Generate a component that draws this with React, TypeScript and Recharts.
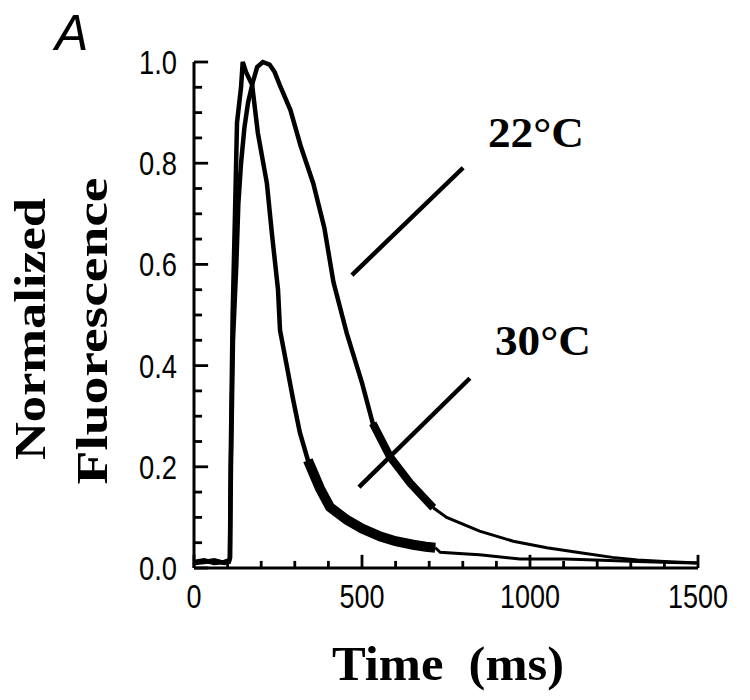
import React from "react";
import { LineChart, Line, XAxis, YAxis, ReferenceLine } from "recharts";

// 30°C trace, fast sampled part (ms / normalized fluorescence)
const time30 = [0, 30, 60, 90, 104, 107, 109, 115, 122, 128, 140, 145, 155, 173, 190, 217, 232, 250, 256, 276, 295, 315, 339, 375, 405, 455, 500, 555, 600, 652, 690, 718];
const fluo30 = [0.012, 0.015, 0.01, 0.012, 0.015, 0.02, 0.2, 0.5, 0.7, 0.88, 0.95, 1.0, 0.98, 0.955, 0.86, 0.76, 0.66, 0.55, 0.47, 0.4, 0.333, 0.268, 0.213, 0.157, 0.12, 0.095, 0.078, 0.062, 0.053, 0.046, 0.042, 0.04];
const tailTime30 = [718, 733, 800, 850, 970, 1100, 1150, 1320, 1420, 1500];
const tailFluo30 = [0.04, 0.031, 0.028, 0.026, 0.018, 0.018, 0.017, 0.013, 0.011, 0.01];

// 22°C trace
const time22 = [0, 30, 60, 90, 104, 107, 110, 116, 126, 132, 140, 150, 161, 175, 188, 205, 225, 240, 255, 287, 317, 355, 388, 415, 455, 500, 532, 583, 643, 712];
const fluo22 = [0.01, 0.012, 0.015, 0.01, 0.012, 0.02, 0.2, 0.45, 0.6, 0.72, 0.8, 0.87, 0.92, 0.96, 0.99, 1.0, 0.995, 0.98, 0.955, 0.905, 0.835, 0.76, 0.672, 0.565, 0.463, 0.366, 0.286, 0.22, 0.168, 0.119];
const tailTime22 = [712, 752, 850, 950, 1050, 1150, 1245, 1320, 1400, 1500];
const tailFluo22 = [0.119, 0.1, 0.073, 0.053, 0.04, 0.03, 0.021, 0.016, 0.013, 0.01];

// noisy stretch of each trace (drawn thicker)
const bandStart30 = 339;
const bandStart22 = 532;

// pointer lines (data coords)
const pointer22 = [{ x: 470, y: 0.579 }, { x: 801, y: 0.791 }];
const pointer30 = [{ x: 491, y: 0.16 }, { x: 821, y: 0.375 }];

const yTicks = [0, 0.05, 0.1, 0.15, 0.2, 0.25, 0.3, 0.35, 0.4, 0.45, 0.5, 0.55, 0.6, 0.65, 0.7, 0.75, 0.8, 0.85, 0.9, 0.95, 1.0];
const yMajor = [0, 0.2, 0.4, 0.6, 0.8, 1.0];
const xTicks = [0, 100, 200, 300, 400, 500, 600, 700, 800, 900, 1000, 1100, 1200, 1300, 1400, 1500];
const xMajor = [0, 500, 1000, 1500];

const zip = (t: number[], f: number[]) => t.map((x, i) => ({ t: x, f: f[i] }));
const main30 = zip(time30, fluo30);
const main22 = zip(time22, fluo22);
const tail30 = zip(tailTime30, tailFluo30);
const tail22 = zip(tailTime22, tailFluo22);
const band30 = main30.filter((d) => d.t >= bandStart30);
const band22 = main22.filter((d) => d.t >= bandStart22);

const isMajorY = (v: number) => yMajor.some((m) => Math.abs(m - v) < 1e-6);

// inward tick marks as fixed segments (lengths in axis units: ~14/8 px on y, ~13/7 px on x)
const yTickSegs = yTicks.map((v) => [{ x: 0, y: v }, { x: isMajorY(v) ? 42 : 24, y: v }]);
const xTickSegs = xTicks.map((v) => [{ x: v, y: 0 }, { x: v, y: xMajor.includes(v) ? 0.026 : 0.014 }]);

const SERIF = '"Liberation Serif", "Times New Roman", Times, serif';
const SANS = '"Liberation Sans", Arial, sans-serif';

const YTickLabel = (props: any) => {
  const { x, y, payload } = props;
  if (!isMajorY(payload.value)) return <g />;
  return (
    <text x={x - 17} y={y + 12} textAnchor="end" fontSize={33} fontFamily={SANS} fill="#000"
      textLength={38} lengthAdjust="spacingAndGlyphs">
      {payload.value.toFixed(1)}
    </text>
  );
};

const XTickLabel = (props: any) => {
  const { x, y, payload } = props;
  if (!xMajor.includes(payload.value)) return <g />;
  const s = String(payload.value);
  return (
    <text x={x} y={y + 40} textAnchor="middle" fontSize={33} fontFamily={SANS} fill="#000"
      textLength={15 * s.length} lengthAdjust="spacingAndGlyphs">
      {s}
    </text>
  );
};

// panel letter, axis titles and the two temperature labels, laid over the chart
const Titles = () => (
  <svg width={750} height={700} style={{ position: "absolute", left: 0, top: 0, pointerEvents: "none" }}>
    <text x={55} y={50} fontSize={50} fontStyle="italic" fontFamily={SANS} fill="#000">
      A
    </text>
    <text transform="translate(45,329) rotate(-90)" textAnchor="middle" fontSize={45} fontWeight="bold"
      fontFamily={SERIF} textLength={262} lengthAdjust="spacingAndGlyphs" fill="#000">
      Normalized
    </text>
    <text transform="translate(107,331) rotate(-90)" textAnchor="middle" fontSize={45} fontWeight="bold"
      fontFamily={SERIF} textLength={307} lengthAdjust="spacingAndGlyphs" fill="#000">
      Fluorescence
    </text>
    <text x={448} y={680} textAnchor="middle" fontSize={48} fontWeight="bold" fontFamily={SERIF}
      textLength={232} lengthAdjust="spacingAndGlyphs" fill="#000" style={{ whiteSpace: "pre" }}>
      {"Time  (ms)"}
    </text>
    <text x={488} y={147} fontSize={42} fontWeight="bold" fontFamily={SERIF}
      textLength={96} lengthAdjust="spacingAndGlyphs" fill="#000">
      22°C
    </text>
    <text x={495} y={355} fontSize={42} fontWeight="bold" fontFamily={SERIF}
      textLength={96} lengthAdjust="spacingAndGlyphs" fill="#000">
      30°C
    </text>
  </svg>
);

export default function App() {
  return (
    <div style={{ position: "absolute", left: 0, top: 0, width: 750, height: 700, background: "#fff" }}>
      <LineChart width={750} height={700} margin={{ top: 62, right: 52, bottom: 92, left: 134 }}>
        <XAxis
          dataKey="t"
          type="number"
          domain={[0, 1500]}
          ticks={xTicks}
          interval={0}
          height={40}
          tickSize={0}
          tickMargin={0}
          tickLine={false}
          tick={<XTickLabel />}
          axisLine={{ stroke: "#000", strokeWidth: 3 }}
        />
        <YAxis
          dataKey="f"
          type="number"
          domain={[0, 1]}
          ticks={yTicks}
          interval={0}
          width={60}
          tickSize={0}
          tickMargin={0}
          tickLine={false}
          tick={<YTickLabel />}
          axisLine={{ stroke: "#000", strokeWidth: 3 }}
        />

        {yTickSegs.map((s, i) => (
          <ReferenceLine key={`ys${i}`} segment={s} stroke="#000" strokeWidth={2.8} ifOverflow="visible" />
        ))}
        {xTickSegs.map((s, i) => (
          <ReferenceLine key={`xs${i}`} segment={s} stroke="#000" strokeWidth={2.8} ifOverflow="visible" />
        ))}

        <Line data={band30} dataKey="f" stroke="#000" strokeWidth={10} dot={false} isAnimationActive={false} />
        <Line data={band22} dataKey="f" stroke="#000" strokeWidth={8} dot={false} isAnimationActive={false} />
        <Line data={main30} dataKey="f" stroke="#000" strokeWidth={4.5} dot={false} isAnimationActive={false} />
        <Line data={main22} dataKey="f" stroke="#000" strokeWidth={4.5} dot={false} isAnimationActive={false} />
        <Line data={tail30} dataKey="f" stroke="#000" strokeWidth={3} dot={false} isAnimationActive={false} />
        <Line data={tail22} dataKey="f" stroke="#000" strokeWidth={3} dot={false} isAnimationActive={false} />

        <ReferenceLine segment={pointer22} stroke="#000" strokeWidth={4.5} ifOverflow="visible" />
        <ReferenceLine segment={pointer30} stroke="#000" strokeWidth={4.5} ifOverflow="visible" />
      </LineChart>
      <Titles />
    </div>
  );
}
